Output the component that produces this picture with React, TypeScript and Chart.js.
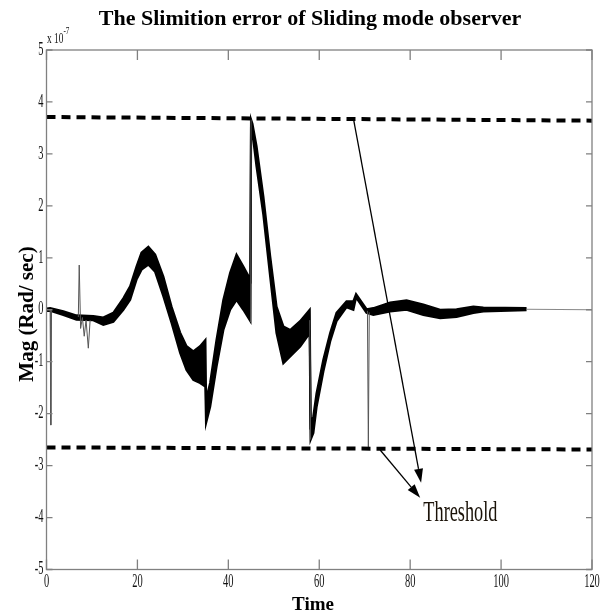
import React, { useEffect, useRef } from "react";
import { Chart, registerables } from "chart.js";
Chart.register(...registerables);

// ---- data (values in units of 1e-7) ----
const bandT = [0, 0.8, 3.7, 6.6, 10.3, 12.5, 14.7, 16.9, 18.4, 19.8, 20.9, 22.4, 23.9, 25.7, 27.5, 29.4, 30.8, 32.3, 33.8, 34.95, 35.1, 36, 37.4, 38.9, 40.4, 41.8, 43.3, 44.85, 45.0, 45.3, 46.2, 47.7, 49.2, 50.6, 52.1, 53.6, 55.8, 57.9, 58.1, 58.7, 59.4, 60.9, 62.4, 63.8, 66, 67.5, 68.1, 70.4, 71.9, 75.6, 79.2, 82.9, 86.6, 90.2, 93.9, 96.1, 105.6];
const bandUpper = [0.02, 0.03, -0.03, -0.11, -0.12, -0.15, -0.06, 0.22, 0.45, 0.83, 1.1, 1.21, 1.06, 0.64, 0.06, -0.44, -0.7, -0.8, -0.7, -0.58, -1.73, -1.41, -0.58, 0.19, 0.71, 1.06, 0.83, 0.58, 3.66, 3.58, 3.15, 2.18, 1.03, 0.06, -0.32, -0.39, -0.22, 0.0, -2.2, -2.05, -1.61, -0.96, -0.45, -0.06, 0.16, 0.16, 0.3, 0.01, 0.03, 0.14, 0.18, 0.1, 0.0, 0.01, 0.06, 0.04, 0.03];
const bandLower = [-0.02, -0.02, -0.1, -0.19, -0.2, -0.29, -0.23, 0.0, 0.19, 0.58, 0.77, 0.87, 0.73, 0.26, -0.25, -0.83, -1.16, -1.35, -1.41, -1.48, -2.18, -1.87, -1.1, -0.39, 0.0, 0.19, 0.0, -0.22, 3.5, 3.41, 2.76, 1.83, 0.64, -0.45, -1.03, -0.9, -0.71, -0.45, -2.5, -2.37, -1.88, -1.19, -0.61, -0.22, 0.05, 0.0, 0.24, -0.06, -0.1, -0.03, 0.0, -0.1, -0.16, -0.14, -0.06, -0.03, -0.01];

const spikeT = [0.8, 0.95, 1.1, 1.1, 7.0, 7.2, 7.5, 7.9, 8.3, 8.7, 9.2, 9.6, 9.6, 44.9, 45.0, 45.0, 57.9, 58.1, 58.1, 70.6, 70.8, 71.0];
const spikeV = [0.0, -2.22, -0.02, null, -0.14, 0.86, -0.36, -0.15, -0.51, -0.2, -0.74, -0.2, null, -0.24, 3.66, null, -0.2, -2.5, null, -0.02, -2.65, -0.05];

const tailT = [105.6, 120];
const tailV = [0.01, 0.0];

const thrTopT = [0, 120];
const thrTopV = [3.71, 3.64];
const thrBotT = [0, 120];
const thrBotV = [-2.65, -2.69];

const arrowFromT = [67.5, 73.4];
const arrowFromV = [3.69, -2.7];
const arrowToT = [82.4, 82.2];
const arrowToV = [-3.33, -3.62];

const xTicks = [0, 20, 40, 60, 80, 100, 120];
const yTicks = [-5, -4, -3, -2, -1, 0, 1, 2, 3, 4, 5];

const titleText = "The Slimition error of Sliding mode observer";
const xTitle = "Time";
const yTitle = "Mag (Rad/ sec)";
const thresholdLabel = "Threshold";
const thresholdLabelT = 82.9;
const thresholdLabelV = -4.07;

const pts = (t: number[], v: (number | null)[]) => t.map((x, i) => ({ x, y: v[i] }));

function condText(ctx: CanvasRenderingContext2D, text: string, x: number, y: number, font: string, sx: number, align: CanvasTextAlign, base: CanvasTextBaseline) {
  ctx.save();
  ctx.translate(x, y);
  ctx.scale(sx, 1);
  ctx.font = font;
  ctx.textAlign = align;
  ctx.textBaseline = base;
  ctx.fillText(text, 0, 0);
  ctx.restore();
}

const framePlugin = {
  id: "frame",
  afterDraw(chart: any) {
    const ctx: CanvasRenderingContext2D = chart.ctx;
    const xs = chart.scales.x;
    const ys = chart.scales.y;
    const { left, right, top, bottom } = chart.chartArea;
    ctx.save();
    // box
    ctx.strokeStyle = "#808080";
    ctx.lineWidth = 1.3;
    ctx.strokeRect(left, top, right - left, bottom - top);
    ctx.beginPath();
    yTicks.forEach((v) => {
      const y = ys.getPixelForValue(v);
      ctx.moveTo(left, y); ctx.lineTo(left + 6, y);
      ctx.moveTo(right, y); ctx.lineTo(right - 6, y);
    });
    xTicks.forEach((v) => {
      const x = xs.getPixelForValue(v);
      ctx.moveTo(x, bottom); ctx.lineTo(x, bottom - 10);
      ctx.moveTo(x, top); ctx.lineTo(x, top + 10);
    });
    ctx.stroke();
    // tick labels
    ctx.fillStyle = "#111";
    const tf = "18px 'Liberation Serif'";
    yTicks.forEach((v) => {
      condText(ctx, String(v), left - 3, ys.getPixelForValue(v), tf, 0.58, "right", "middle");
    });
    xTicks.forEach((v) => {
      condText(ctx, String(v), xs.getPixelForValue(v), bottom + 4, tf, 0.58, "center", "top");
    });
    // exponent
    condText(ctx, "x 10", left + 0.5, top - 7, "15px 'Liberation Serif'", 0.62, "left", "alphabetic");
    condText(ctx, "-7", left + 17, top - 16, "10px 'Liberation Serif'", 0.7, "left", "alphabetic");
    // titles
    ctx.fillStyle = "#000";
    ctx.font = "bold 22px 'Liberation Serif'";
    ctx.textAlign = "center";
    ctx.textBaseline = "alphabetic";
    ctx.fillText(titleText, 310, 25);
    ctx.font = "bold 19px 'Liberation Serif'";
    ctx.fillText(xTitle, 313, 610);
    ctx.save();
    ctx.translate(33, 314);
    ctx.rotate(-Math.PI / 2);
    ctx.font = "bold 21px 'Liberation Serif'";
    ctx.fillText(yTitle, 0, 0);
    ctx.restore();
    // arrows
    ctx.strokeStyle = "#000";
    ctx.fillStyle = "#000";
    ctx.lineWidth = 1.3;
    arrowFromT.forEach((t, i) => {
      const x1 = xs.getPixelForValue(t), y1 = ys.getPixelForValue(arrowFromV[i]);
      const x2 = xs.getPixelForValue(arrowToT[i]), y2 = ys.getPixelForValue(arrowToV[i]);
      const a = Math.atan2(y2 - y1, x2 - x1);
      const L = 14, W = 4.5;
      const bx = x2 - L * Math.cos(a), by = y2 - L * Math.sin(a);
      ctx.beginPath();
      ctx.moveTo(x1, y1); ctx.lineTo(bx, by); ctx.stroke();
      ctx.beginPath();
      ctx.moveTo(x2, y2);
      ctx.lineTo(bx + W * Math.sin(a), by - W * Math.cos(a));
      ctx.lineTo(bx - W * Math.sin(a), by + W * Math.cos(a));
      ctx.closePath();
      ctx.fill();
    });
    ctx.fillStyle = "#1a1208";
    condText(ctx, thresholdLabel, xs.getPixelForValue(thresholdLabelT), ys.getPixelForValue(thresholdLabelV), "29px 'Liberation Serif'", 0.63, "left", "alphabetic");
    ctx.restore();
  },
};

export default function App() {
  const ref = useRef<HTMLCanvasElement>(null);
  useEffect(() => {
    if (!ref.current) return;
    const chart = new Chart(ref.current, {
      type: "line",
      data: {
        datasets: [
          { data: pts(thrTopT, thrTopV), borderColor: "#000", borderWidth: 4, borderDash: [9, 6], pointRadius: 0, fill: false, order: 0 },
          { data: pts(thrBotT, thrBotV), borderColor: "#000", borderWidth: 4, borderDash: [9, 6], pointRadius: 0, fill: false, order: 0 },
          { data: pts(bandT, bandUpper), borderColor: "#000", borderWidth: 2.2, pointRadius: 0, fill: false, order: 2 },
          { data: pts(bandT, bandLower), borderColor: "#000", borderWidth: 2.2, pointRadius: 0, fill: "-1", backgroundColor: "#000", order: 2 },
          { data: pts(spikeT, spikeV), borderColor: "#555", borderWidth: 1, pointRadius: 0, fill: false, spanGaps: false, order: 1 },
          { data: pts(tailT, tailV), borderColor: "#888", borderWidth: 1.2, pointRadius: 0, fill: false, order: 1 },
        ],
      } as any,
      options: {
        animation: false,
        responsive: false,
        maintainAspectRatio: false,
        layout: { padding: { left: 46.5, right: 11, top: 50, bottom: 45.5 } },
        plugins: { legend: { display: false }, tooltip: { enabled: false }, title: { display: false } },
        scales: {
          x: { type: "linear", min: 0, max: 120, display: false },
          y: { type: "linear", min: -5, max: 5, display: false },
        },
        elements: { line: { tension: 0 }, point: { radius: 0 } },
      } as any,
      plugins: [framePlugin],
    });
    return () => chart.destroy();
  }, []);
  return (
    <div style={{ position: "absolute", left: 0, top: 0, width: 603, height: 615, background: "#fff" }}>
      <canvas ref={ref} width={603} height={615} style={{ width: 603, height: 615 }} />
    </div>
  );
}
